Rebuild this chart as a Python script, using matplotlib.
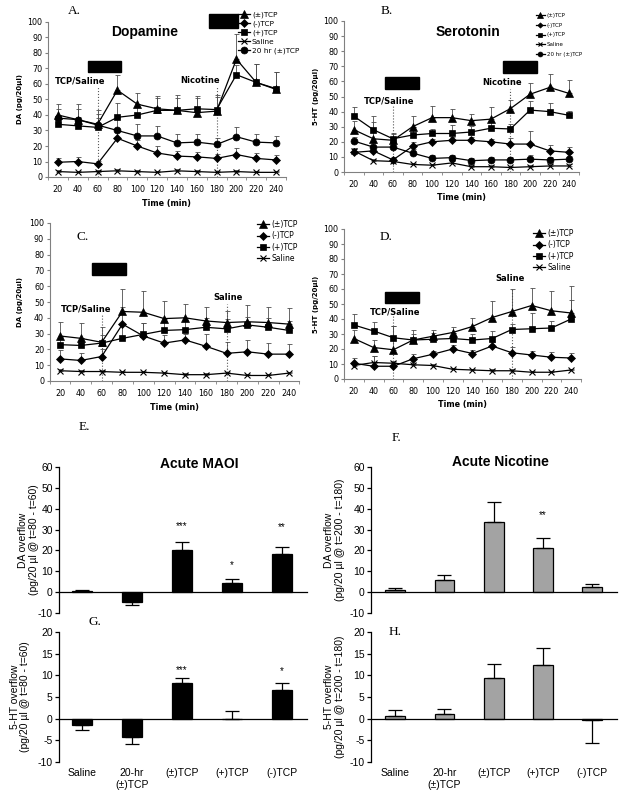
import numpy as np
import matplotlib
matplotlib.use("Agg")
import matplotlib.pyplot as plt
from matplotlib.patches import Rectangle
from matplotlib.transforms import blended_transform_factory

# ---------------- data ----------------
TIME = [20, 40, 60, 80, 100, 120, 140, 160, 180, 200, 220, 240]

# A. dopamine, nicotine challenge
A_pm = [40, 37, 34, 56, 47, 44, 43, 41.5, 42.5, 76, 61, 57]
A_pm_err = [7, 10, 9, 10, 7, 8, 10, 10.5, 10.5, 16, 12, 11]
A_plus = [34, 33, 32, 38.5, 40, 43, 43, 44, 43.5, 66, 61, 56.5]
A_plus_err = [5, 6, 6, 9, 7, 8, 8, 7, 8, 6, 12, 11]
A_minus = [9.5, 10, 8.5, 25, 20, 15.5, 13.5, 13, 12, 14.5, 12, 11]
A_minus_err = [2.5, 3, 2, 5, 4, 4.5, 3.5, 3, 3, 4, 3.5, 3]
A_hr20 = [38, 37, 33.5, 30, 26.5, 26.5, 22, 22.5, 21, 26, 22.5, 22]
A_hr20_err = [6, 7, 7, 8, 7.5, 6.5, 6, 5, 4, 6, 5, 4.5]
A_sal = [3.5, 3, 3.5, 4, 3.5, 3, 4, 3.5, 3, 3.5, 3, 3]
A_sal_err = [1, 1, 1, 1, 1, 1, 1, 1, 1, 1, 1, 1]

# B. serotonin, nicotine challenge
B_pm = [28, 22, 21, 30, 36, 36, 34, 35, 42, 51.5, 56, 52]
B_pm_err = [6, 15, 4, 7, 8, 5.5, 4.5, 8, 6, 7.5, 9, 9]
B_plus = [37, 28, 22, 24.5, 25.5, 25.5, 26.5, 29, 28.5, 41, 40, 37.5]
B_plus_err = [6, 5, 4, 5, 3, 5.5, 4, 4, 3.5, 6, 6, 3]
B_minus = [13, 14, 8, 17, 20, 21, 21, 20, 18.5, 18.5, 14, 13]
B_minus_err = [2, 3, 2, 3, 2, 2, 2, 2, 4, 8.5, 4, 3.5]
B_hr20 = [20.5, 16.5, 16.5, 12.5, 9, 9.5, 7.5, 8, 8, 8.5, 8, 8.5]
B_hr20_err = [3, 3, 3, 3, 2, 2, 2, 2, 2, 3, 2, 2]
B_sal = [14, 7.5, 7, 5, 4.5, 6, 3.5, 3.5, 3, 3.5, 4, 4]
B_sal_err = [2, 1, 1, 1, 1, 1, 1, 1, 1, 1, 1, 1]

# C. dopamine, saline challenge
C_pm = [28.5, 27, 24.5, 44, 43.5, 39.5, 40, 38, 37, 37.5, 37, 36]
C_pm_err = [9, 10, 9.5, 14, 13.5, 11, 9, 9, 7.5, 10.5, 10, 10.5]
C_plus = [23, 22.5, 24, 27, 29.5, 32, 32.5, 34, 33, 35.5, 34, 32]
C_plus_err = [5, 5, 5, 10, 7, 6, 6, 6, 6, 5, 6, 6]
C_minus = [14, 13, 15.5, 36, 28.5, 24, 26, 22, 17.5, 18.5, 17, 17]
C_minus_err = [5.5, 5, 5, 11, 8, 5, 4, 8, 7.5, 7.5, 7, 6.5]
C_sal = [6.5, 6, 6, 5.5, 5.5, 5, 4, 4, 5, 3.5, 3.5, 5]
C_sal_err = [1, 1, 1, 1, 1, 1, 1, 1, 1, 1, 1, 1]

# D. serotonin, saline challenge
D_pm = [27, 21, 19.5, 26, 28.5, 31, 35, 41, 45, 49, 45.5, 44]
D_pm_err = [6, 5, 16, 6.5, 4.5, 4, 6, 11, 15, 12, 13, 18]
D_plus = [36, 32, 27.5, 26, 26.5, 27, 26, 27, 33, 33.5, 34, 40]
D_plus_err = [7.5, 6, 8, 4, 4, 4, 4, 5, 4, 10.5, 5, 13]
D_minus = [10.5, 8.5, 8.5, 13.5, 16.5, 20, 17, 22, 17.5, 16, 14.5, 14]
D_minus_err = [3.5, 7, 3, 3, 2.5, 2.5, 2.5, 3, 4, 3, 3.5, 3.5]
D_sal = [9, 11, 10.5, 9.5, 9, 6.5, 6, 5.5, 5.5, 4.5, 4.5, 6]
D_sal_err = [1, 4.5, 1.5, 1, 1, 1, 1, 1, 1, 1, 1, 1]

# treatment blocks (start, end, low, high)
A_blocks = [(50, 84, 68, 75), (172, 202, 96, 105)]
B_blocks = [(52, 86.5, 54.7, 62.7), (172.5, 207, 65.7, 73.7)]
C_blocks = [(51, 83.4, 67.2, 74.6)]
D_blocks = [(51.4, 86, 51, 58.3)]

# bar panels
CATS = ["Saline", "20-hr\n(±)TCP", "(±)TCP", "(+)TCP", "(-)TCP"]
E_vals = [0.6, -4.6, 20.2, 4.6, 18.2]
E_err = [0.2, 1.8, 4.0, 1.6, 3.6]
E_stars = ["", "", "***", "*", "**"]
E_star_y = [0, 0, 31.8, 13, 31]
F_vals = [0.9, 5.9, 33.6, 21, 2.7]
F_err = [1.0, 2.3, 9.6, 4.8, 1.0]
F_stars = ["", "", "", "**", ""]
F_star_y = [0, 0, 0, 36.8, 0]
G_vals = [-1.5, -4.3, 8.3, 0.0, 6.6]
G_err = [1.1, 1.5, 1.2, 1.8, 1.7]
G_stars = ["", "", "***", "", "*"]
G_star_y = [0, 0, 11.2, 0, 11]
H_vals = [0.7, 1.0, 9.4, 12.4, -0.3]
H_err = [1.4, 1.2, 3.2, 3.8, 5.2]

W, H = 624, 797
SANS = "DejaVu Sans"
ARIAL = "Liberation Sans"
SERIF = "Liberation Serif"

STYLE = {
    "pm": ("^", 5.2, "(±)TCP"),
    "minus": ("D", 3.8, "(-)TCP"),
    "plus": ("s", 5.0, "(+)TCP"),
    "sal": ("x", 4.5, "Saline"),
    "hr20": ("o", 5.0, "20 hr (±)TCP"),
}


def box(l, t, r, b):
    return [l / W, 1 - b / H, (r - l) / W, (b - t) / H]


def fpt(x, y):
    return (x / W, 1 - y / H)


def line_panel(fig, ax, series, ylabel, blocks, notes, leg_xy, leg_fs, leg_sp, leg_ms):
    for vals, err, key in series:
        m, ms, lab = STYLE[key]
        ax.errorbar(TIME, vals, yerr=[np.zeros(len(err)), err], fmt="none",
                    ecolor="0.3", elinewidth=0.6, capsize=1.8, capthick=0.6, zorder=2)
        ax.plot(TIME, vals, color="k", lw=0.9, marker=m, ms=ms, mfc="k", mec="k",
                mew=0.8 if key == "sal" else 0.5, label=lab, zorder=3)
    for x0, x1, y0, y1 in blocks:
        ax.add_patch(Rectangle((x0, y0), x1 - x0, y1 - y0, fc="k", ec="k",
                               clip_on=False, zorder=5))
    for x, top, txt, tx, ty in notes:
        ax.vlines(x, 0, top, colors="0.35", linestyles=":", lw=0.8, zorder=1)
        ax.text(tx, ty, txt, ha="center", va="center", fontsize=6, fontweight="bold",
                family=SANS)
    ax.set_xlim(10, 250)
    ax.set_ylim(0, 100)
    ax.set_xticks(TIME)
    ax.set_xticks(np.arange(10, 251, 20), minor=True)
    ax.set_yticks(np.arange(0, 101, 10))
    ax.tick_params(axis="x", which="major", length=0, labelsize=5.8, pad=5.5)
    ax.tick_params(axis="x", which="minor", length=2.5, direction="out", color="0.5")
    ax.tick_params(axis="y", length=2.5, direction="out", color="0.5", labelsize=5.8, pad=1.5)
    for s in ("top", "right"):
        ax.spines[s].set_visible(False)
    for s in ("left", "bottom"):
        ax.spines[s].set_color("0.5")
        ax.spines[s].set_linewidth(0.8)
    ax.set_xlabel("Time (min)", fontsize=5.8, fontweight="bold")
    ax.xaxis.set_label_coords(0.5, -0.14)
    ax.set_ylabel(ylabel, fontsize=5, fontweight="bold")
    ax.yaxis.set_label_coords(-0.105, 0.5)
    ax.legend(loc="upper left", bbox_to_anchor=fpt(*leg_xy), bbox_transform=fig.transFigure,
              frameon=False, fontsize=leg_fs, handlelength=1.6, handletextpad=0.3,
              labelspacing=leg_sp, borderpad=0, borderaxespad=0, markerscale=leg_ms)


def bar_panel(ax, vals, err, color, ylim, step, xlim_left, stars=None, star_y=None,
              labels=False, ylabel="", ylab_x=-0.09):
    x = np.arange(len(vals))
    ax.bar(x, vals, width=0.4, color=color, edgecolor="k", lw=0.9, zorder=2)
    lo = [e if v < 0 else 0 for v, e in zip(vals, err)]
    hi = [e if v >= 0 else 0 for v, e in zip(vals, err)]
    ax.errorbar(x, vals, yerr=[lo, hi], fmt="none", ecolor="k", elinewidth=0.9,
                capsize=5, capthick=0.9, zorder=3)
    if stars:
        for xi, s, y in zip(x, stars, star_y):
            if s:
                ax.text(xi, y, s, ha="center", va="center", fontsize=7, family=ARIAL)
    ax.set_xlim(xlim_left, 4.5)
    ax.set_ylim(*ylim)
    ax.set_yticks(np.arange(ylim[0], ylim[1] + 0.1, step))
    ax.set_xticks([])
    ax.spines["bottom"].set_position(("data", 0))
    for s in ("top", "right"):
        ax.spines[s].set_visible(False)
    ax.spines["left"].set_linewidth(0.9)
    ax.spines["bottom"].set_linewidth(0.9)
    ax.tick_params(axis="y", length=3, width=0.9, direction="out", labelsize=7.5, pad=1.5)
    for t in ax.get_yticklabels():
        t.set_family(ARIAL)
    if labels:
        tr = blended_transform_factory(ax.transData, ax.transAxes)
        for xi, lab in zip(x, CATS):
            ax.text(xi, -0.05, lab, transform=tr, ha="center", va="top", fontsize=7.5,
                    family=ARIAL, linespacing=1.15)
    ax.set_ylabel(ylabel, fontsize=7.5, family=ARIAL, linespacing=1.1)
    ax.yaxis.set_label_coords(ylab_x, 0.5)


plt.rcParams["font.family"] = SANS
plt.rcParams["axes.unicode_minus"] = False
fig = plt.figure(figsize=(W / 100, H / 100), dpi=100)

axA = fig.add_axes(box(48, 22, 286, 177))
line_panel(fig, axA,
           [(A_pm, A_pm_err, "pm"), (A_minus, A_minus_err, "minus"), (A_plus, A_plus_err, "plus"),
            (A_sal, A_sal_err, "sal"), (A_hr20, A_hr20_err, "hr20")],
           "DA (pg/20µl)", A_blocks,
           [(60, 58, "TCP/Saline", 42, 62), (180, 58, "Nicotine", 163, 62)],
           (238, 11), 5.3, 0.35, 1.0)

axB = fig.add_axes(box(344, 21, 579, 172))
line_panel(fig, axB,
           [(B_pm, B_pm_err, "pm"), (B_minus, B_minus_err, "minus"), (B_plus, B_plus_err, "plus"),
            (B_sal, B_sal_err, "sal"), (B_hr20, B_hr20_err, "hr20")],
           "5-HT (pg/20µl)", B_blocks,
           [(60, 44.5, "TCP/Saline", 56, 47), (180, 54.7, "Nicotine", 171.5, 59)],
           (536, 13), 4, 0.85, 0.7)

axC = fig.add_axes(box(49.6, 223, 299.5, 381))
line_panel(fig, axC,
           [(C_pm, C_pm_err, "pm"), (C_minus, C_minus_err, "minus"), (C_plus, C_plus_err, "plus"),
            (C_sal, C_sal_err, "sal")],
           "DA (pg/20µl)", C_blocks,
           [(60, 42, "TCP/Saline", 45, 45.5), (180, 49, "Saline", 181, 53)],
           (257, 220), 5.5, 0.3, 1.0)

axD = fig.add_axes(box(344, 229, 581, 379))
line_panel(fig, axD,
           [(D_pm, D_pm_err, "pm"), (D_minus, D_minus_err, "minus"), (D_plus, D_plus_err, "plus"),
            (D_sal, D_sal_err, "sal")],
           "5-HT (pg/20µl)", D_blocks,
           [(60, 41.7, "TCP/Saline", 61.6, 44.5), (180, 60.5, "Saline", 178, 66.7)],
           (533, 229), 5.5, 0.3, 1.0)

fig.text(*fpt(145, 32), "Dopamine", ha="center", va="center", fontsize=10,
         fontweight="bold", family=ARIAL)
fig.text(*fpt(468, 32), "Serotonin", ha="center", va="center", fontsize=10,
         fontweight="bold", family=ARIAL)

axE = fig.add_axes(box(59, 467, 307, 613))
bar_panel(axE, E_vals, E_err, "black", (-10, 60), 10, -0.46, E_stars, E_star_y,
          ylabel="DA overflow\n(pg/20 µl @ t=80 - t=60)", ylab_x=-0.08)
axF = fig.add_axes(box(371, 467, 617, 613))
bar_panel(axF, F_vals, F_err, "#a3a3a3", (-10, 60), 10, -0.49, F_stars, F_star_y,
          ylabel="DA overflow\n(pg/20 µl @ t=200 - t=180)", ylab_x=-0.105)
axG = fig.add_axes(box(59, 632, 307, 762))
bar_panel(axG, G_vals, G_err, "black", (-10, 20), 5, -0.46, G_stars, G_star_y, labels=True,
          ylabel="5-HT overflow\n(pg/20 µl @ t=80 - t=60)", ylab_x=-0.115)
axH = fig.add_axes(box(371, 632, 617, 762))
bar_panel(axH, H_vals, H_err, "#a3a3a3", (-10, 20), 5, -0.49, labels=True,
          ylabel="5-HT overflow\n(pg/20 µl @ t=200 - t=180)", ylab_x=-0.105)

fig.text(*fpt(199, 464), "Acute MAOI", ha="center", va="center", fontsize=10,
         fontweight="bold", family=ARIAL)
fig.text(*fpt(500, 462), "Acute Nicotine", ha="center", va="center", fontsize=10,
         fontweight="bold", family=ARIAL)

for lab, x, y in (("A.", 74, 11), ("B.", 387, 11), ("C.", 83, 237), ("D.", 386, 237),
                  ("E.", 84, 427), ("F.", 396, 438), ("G.", 95, 622), ("H.", 395, 632)):
    fig.text(*fpt(x, y), lab, ha="center", va="center", fontsize=9.5, family=SERIF)

fig.savefig("out.png", dpi=100)
